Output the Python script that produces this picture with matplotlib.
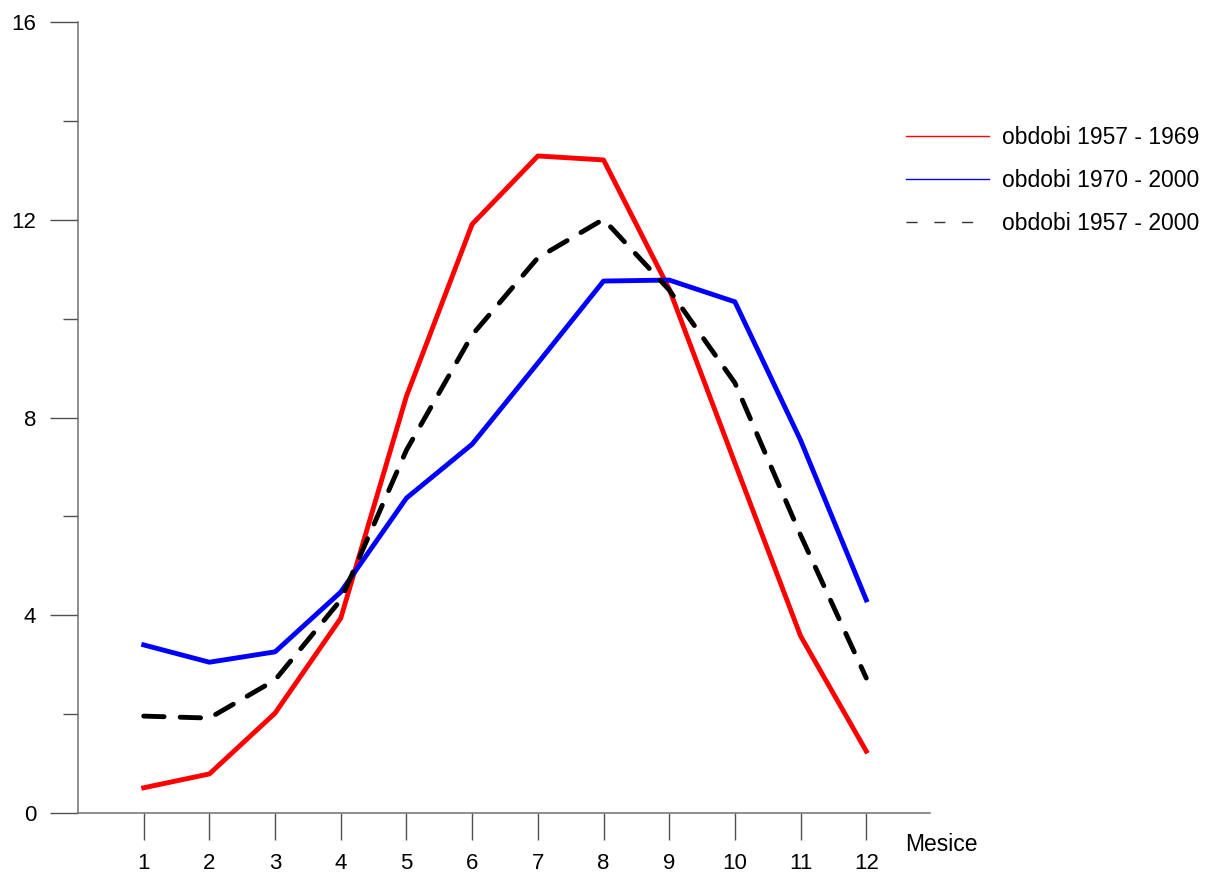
import matplotlib.pyplot as plt
from matplotlib.lines import Line2D

plt.rcParams['font.family'] = ['Liberation Sans', 'DejaVu Sans']

# mesice
mesice = [1, 2, 3, 4, 5, 6, 7, 8, 9, 10, 11, 12]

# obdobi 1957 - 1969
obd_1957_1969 = [0.51, 0.79, 2.02, 3.94, 8.43, 11.91, 13.29, 13.21, 10.6, 7.08, 3.58, 1.25]
# obdobi 1970 - 2000
obd_1970_2000 = [3.40, 3.05, 3.26, 4.47, 6.37, 7.46, 9.10, 10.76, 10.78, 10.34, 7.54, 4.31]
# obdobi 1957 - 2000
obd_1957_2000 = [1.96, 1.92, 2.69, 4.31, 7.34, 9.67, 11.23, 12.01, 10.58, 8.70, 5.62, 2.73]

labels = ['obdobi 1957 - 1969', 'obdobi 1970 - 2000', 'obdobi 1957 - 2000']

fig = plt.figure(figsize=(12.08, 8.75), dpi=100)
ax = fig.add_axes([78 / 1208, 62 / 875, 852 / 1208, 791 / 875])

ax.plot(mesice, obd_1957_1969, color='#ff0000', lw=3.5, solid_joinstyle='round')
ax.plot(mesice, obd_1970_2000, color='#0000ff', lw=3.5, solid_joinstyle='round')
ax.plot(mesice, obd_1957_2000, color='black', lw=3.5, dashes=(4.2, 3.3),
        dash_capstyle='round', dash_joinstyle='round')

ax.set_xlim(0, 12.97)
ax.set_ylim(0, 16)

# osy
for s in ['top', 'right']:
    ax.spines[s].set_visible(False)
for s in ['left', 'bottom']:
    ax.spines[s].set_color('#707070')
    ax.spines[s].set_linewidth(1.1)

ax.set_xticks(mesice)
ax.set_yticks([0, 4, 8, 12, 16])
ax.set_yticks([2, 6, 10, 14], minor=True)
ax.tick_params(axis='x', length=19.5, width=1, color='#505050', pad=9, labelsize=16)
ax.tick_params(axis='y', which='major', length=20, width=1, color='#505050', pad=10, labelsize=16)
ax.tick_params(axis='y', which='minor', length=11, width=1, color='#505050')

ax.text(0.971, -0.04, 'Mesice', transform=ax.transAxes, fontsize=16.5, va='center', ha='left')

# legenda
handles = [Line2D([], [], color='#ff0000', lw=1),
           Line2D([], [], color='#0000ff', lw=1),
           Line2D([], [], color='#333333', lw=1, dashes=(8, 12))]
fig.legend(handles, labels, loc='upper left', bbox_to_anchor=(895 / 1208, 1 - 115 / 875),
           frameon=False, fontsize=16.5, handlelength=3.6, handletextpad=0.57,
           labelspacing=0.86, borderpad=0)

fig.savefig('out.png', dpi=100)
